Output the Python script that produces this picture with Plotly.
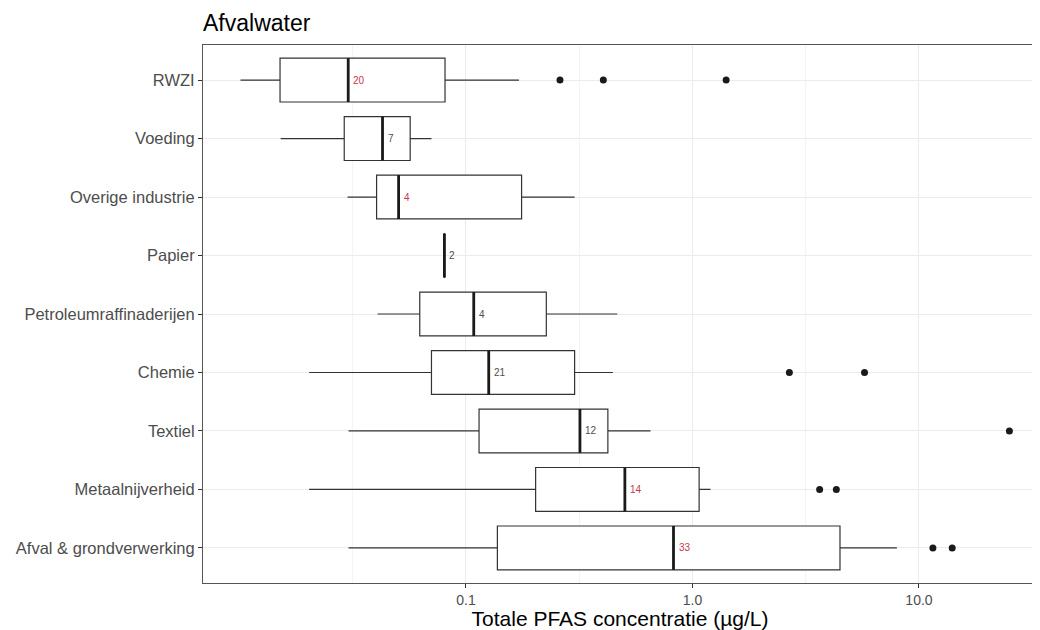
import math
import plotly.graph_objects as go

# ---- data ----
categories = ["RWZI", "Voeding", "Overige industrie", "Papier", "Petroleumraffinaderijen",
              "Chemie", "Textiel", "Metaalnijverheid", "Afval & grondverwerking"]
lower_whisker = [0.0101, 0.0152, 0.0300, 0.0802, 0.0407, 0.0203, 0.0303, 0.0203, 0.0303]
q1_values     = [0.0151, 0.0290, 0.0403, 0.0802, 0.0625, 0.0704, 0.1142, 0.2030, 0.1376]
median_values = [0.0302, 0.0428, 0.0504, 0.0803, 0.1082, 0.1260, 0.3185, 0.5029, 0.8245]
q3_values     = [0.0808, 0.0567, 0.1760, 0.0804, 0.2263, 0.3017, 0.4231, 1.0700, 4.4800]
upper_whisker = [0.1714, 0.0704, 0.3017, 0.0804, 0.4655, 0.4453, 0.6528, 1.2007, 7.9900]
counts        = [20, 7, 4, 2, 4, 21, 12, 14, 33]
count_colors  = ["#c8364e", "#4d4d4d", "#c8364e", "#4d4d4d", "#4d4d4d",
                 "#4d4d4d", "#4d4d4d", "#c8364e", "#c8364e"]
outlier_cats = ["RWZI", "RWZI", "RWZI", "Chemie", "Chemie", "Textiel",
                "Metaalnijverheid", "Metaalnijverheid",
                "Afval & grondverwerking", "Afval & grondverwerking"]
outlier_vals = [0.260, 0.404, 1.408, 2.678, 5.75, 25.08, 3.643, 4.316, 11.52, 14.02]
x_tick_vals = [0.1, 1.0, 10.0]
x_tick_text = ["0.1", "1.0", "10.0"]

box_width = 0.75
order = list(reversed(categories))  # RWZI at top

# the page body adds an 8px offset; size the figure to fit the 1040x630 window
W, H = 1032, 622

fig = go.Figure()
fig.add_trace(go.Box(
    y=categories, q1=q1_values, median=median_values, q3=q3_values,
    lowerfence=lower_whisker, upperfence=upper_whisker,
    orientation="h", width=box_width, whiskerwidth=0,
    fillcolor="white", line=dict(color="#333333", width=1.2),
    boxpoints=False, showlegend=False, hoverinfo="skip",
))
fig.add_trace(go.Scatter(
    x=outlier_vals, y=outlier_cats, mode="markers",
    marker=dict(color="#1a1a1a", size=7), showlegend=False, hoverinfo="skip",
))

# thick median lines and count labels
for cat, med, n, col in zip(categories, median_values, counts, count_colors):
    idx = order.index(cat)
    fig.add_shape(type="line", xref="x", yref="y",
                  x0=med, x1=med, y0=idx - box_width / 2, y1=idx + box_width / 2,
                  line=dict(color="#1a1a1a", width=2.8))
    fig.add_annotation(x=math.log10(med), y=cat, text=str(n), showarrow=False,
                       xanchor="left", xshift=3, font=dict(size=10, color=col))

minor_vals = [10 ** (k + 0.5) for k in range(-3, 2)]
fig.update_layout(
    width=W, height=H,
    margin=dict(l=195, r=3, t=37, b=47, autoexpand=False),
    paper_bgcolor="white", plot_bgcolor="white",
    font=dict(family="Liberation Sans, Arial, sans-serif", color="#4d4d4d"),
    title=dict(text="Afvalwater", x=195 / W, xanchor="left",
               y=1 - 15 / H, yanchor="middle", yref="container",
               font=dict(size=23, color="black"), automargin=False),
    xaxis=dict(
        type="log", range=[math.log10(0.0069), math.log10(33.2)],
        tickvals=x_tick_vals, ticktext=x_tick_text,
        tickfont=dict(size=14, color="#4d4d4d"),
        ticks="outside", ticklen=4, tickcolor="#333333",
        showgrid=True, gridcolor="#ebebeb", gridwidth=1,
        minor=dict(tickvals=minor_vals, showgrid=True, gridcolor="#f4f4f4", gridwidth=0.5, ticks=""),
        showline=True, linecolor="#555555", linewidth=1, mirror=True,
        zeroline=False, automargin=False,
        title=dict(text="Totale PFAS concentratie (µg/L)", font=dict(size=21, color="black"), standoff=0),
    ),
    yaxis=dict(
        type="category", categoryorder="array", categoryarray=order,
        range=[-0.6, len(categories) - 0.4],
        tickfont=dict(size=16.5, color="#4d4d4d"),
        ticks="outside", ticklen=4, tickcolor="#333333",
        showgrid=True, gridcolor="#ebebeb", gridwidth=1,
        showline=True, linecolor="#555555", linewidth=1, mirror=True,
        zeroline=False, automargin=False,
    ),
)

fig.write_html("out.html")
